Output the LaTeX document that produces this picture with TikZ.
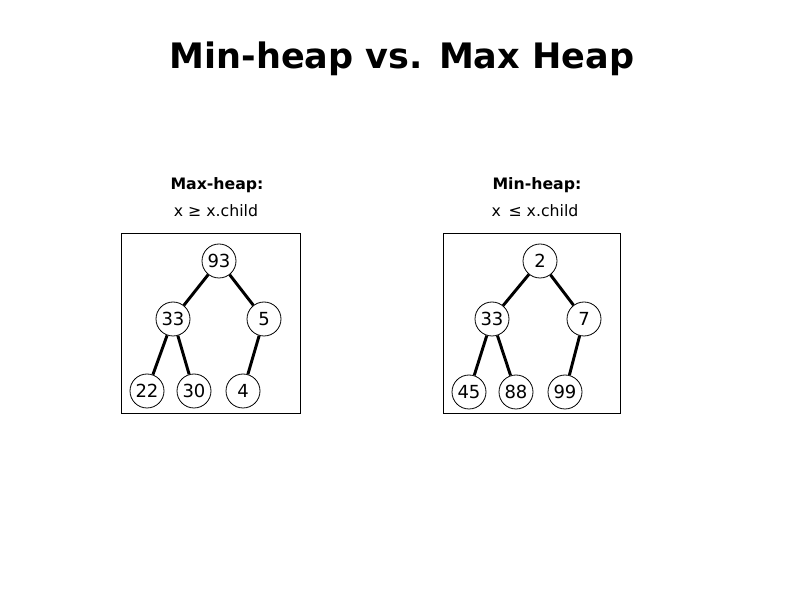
\documentclass[tikz,border=0pt]{standalone}
\usepackage{fontspec}
\setmainfont{DejaVu Sans}
\usepackage{tikz}
\usetikzlibrary{positioning}
\definecolor{heapLine}{RGB}{0,0,0}

\begin{document}
\begin{tikzpicture}[x=0.75pt,y=-0.75pt,
  hnode/.style={draw=heapLine, line width=0.6pt, circle, minimum size=25.5pt, inner sep=0pt, font=\fontsize{13.5}{15}\selectfont},
  hedge/.style={draw=heapLine, line width=2.2pt},
  hbox/.style={draw=heapLine, line width=0.6pt},
  htitle/.style={font=\fontsize{11.8}{14}\selectfont\bfseries},
  hrule/.style={font=\fontsize{11.8}{14}\selectfont}]
\useasboundingbox (0,0) rectangle (794,595);

\node[font=\fontsize{26.3}{30}\selectfont\bfseries] (title) at (402,59) {Min-heap vs. Max Heap};

% max-heap
\node[htitle] (maxname) at (217,185) {Max-heap:};
\node[hrule] (maxrule) at (216,211) {x ≥ x.child};
\draw[hbox] (121,233) rectangle (300,413);
\node[hnode] (m93) at (219,261) {93};
\node[hnode] (m33) at (173,319) {33};
\node[hnode] (m5) at (264,319) {5};
\node[hnode] (m22) at (147,391) {22};
\node[hnode] (m30) at (194,391) {30};
\node[hnode] (m4) at (243,391) {4};
\draw[hedge] (m93) -- (m33);
\draw[hedge] (m93) -- (m5);
\draw[hedge] (m33) -- (m22);
\draw[hedge] (m33) -- (m30);
\draw[hedge] (m5) -- (m4);

% min-heap
\node[htitle] (minname) at (537,185) {Min-heap:};
\node[hrule] (minrule) at (535,211) {x\, ≤ x.child};
\draw[hbox] (443,233) rectangle (620,413);
\node[hnode] (n2) at (540,261) {2};
\node[hnode] (n33) at (492,319) {33};
\node[hnode] (n7) at (584,319) {7};
\node[hnode] (n45) at (469,392) {45};
\node[hnode] (n88) at (516,392) {88};
\node[hnode] (n99) at (565,392) {99};
\draw[hedge] (n2) -- (n33);
\draw[hedge] (n2) -- (n7);
\draw[hedge] (n33) -- (n45);
\draw[hedge] (n33) -- (n88);
\draw[hedge] (n7) -- (n99);
\end{tikzpicture}
\end{document}
